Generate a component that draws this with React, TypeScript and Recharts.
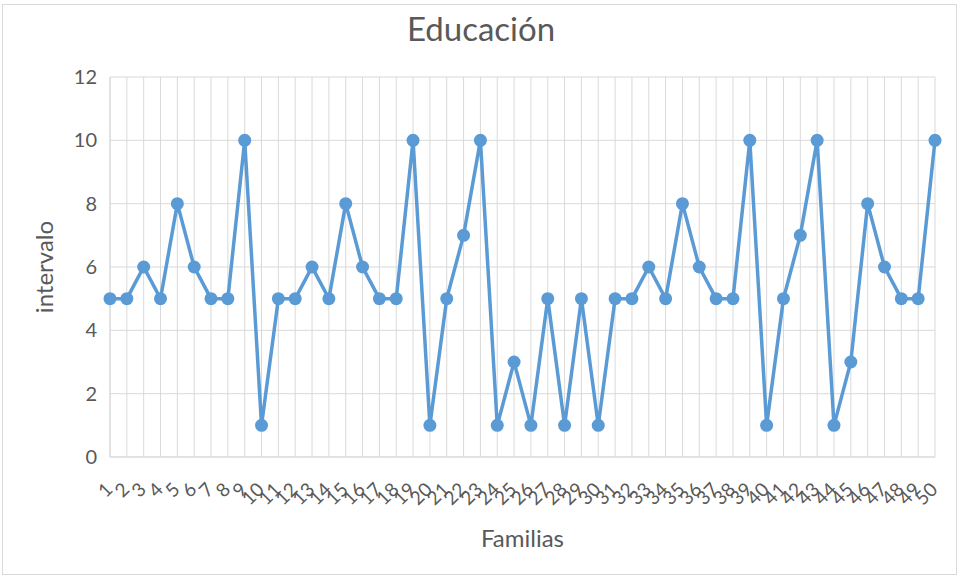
import React from "react";
import { LineChart, Line, XAxis, YAxis, CartesianGrid, Label } from "recharts";

const familias: string[] = [
  "1","2","3","4","5","6","7","8","9","10",
  "11","12","13","14","15","16","17","18","19","20",
  "21","22","23","24","25","26","27","28","29","30",
  "31","32","33","34","35","36","37","38","39","40",
  "41","42","43","44","45","46","47","48","49","50",
];
const intervalo: number[] = [
  5, 5, 6, 5, 8, 6, 5, 5, 10, 1,
  5, 5, 6, 5, 8, 6, 5, 5, 10, 1,
  5, 7, 10, 1, 3, 1, 5, 1, 5, 1,
  5, 5, 6, 5, 8, 6, 5, 5, 10, 1,
  5, 7, 10, 1, 3, 8, 6, 5, 5, 10,
];
const yTicks: number[] = [0, 2, 4, 6, 8, 10, 12];

const data = familias.map((f, i) => ({ familia: f, valor: intervalo[i] }));

const FONT = "Lato, 'Open Sans', sans-serif";
const GREY = "#595959";
const BLUE = "#5B9BD5";

const XTick = (props: any) => {
  const { x, y, payload } = props;
  return (
    <g transform={`translate(${x - 1},${y + 27})`}>
      <text
        textAnchor="end"
        transform="rotate(-45)"
        fontSize={19}
        fill={GREY}
        fontFamily={FONT}
        dy="0.35em"
      >
        {payload.value}
      </text>
    </g>
  );
};

export default function App() {
  return (
    <div
      style={{
        position: "absolute",
        left: 0,
        top: 0,
        width: 960,
        height: 578,
        background: "#fff",
      }}
    >
      <div
        style={{
          position: "absolute",
          left: 2,
          top: 4,
          width: 955,
          height: 571,
          border: "1px solid #d9d9d9",
          boxSizing: "border-box",
        }}
      />
      <div
        style={{
          position: "absolute",
          left: 0,
          top: 8,
          width: 962,
          textAlign: "center",
          fontFamily: FONT,
          fontSize: 33,
          color: GREY,
          lineHeight: "40px",
        }}
      >
        Educación
      </div>
      <div style={{ position: "absolute", left: 0, top: 0 }}>
        <LineChart
          width={960}
          height={578}
          data={data}
          margin={{ top: 77, right: 25, bottom: 21, left: 0 }}
        >
          <CartesianGrid stroke="#d9d9d9" strokeWidth={1} />
          <XAxis
            dataKey="familia"
            interval={0}
            height={100}
            tick={<XTick />}
            tickLine={false}
            axisLine={{ stroke: "#d9d9d9" }}
            tickSize={0}
          >
            <Label
              value="Familias"
              position="insideBottom"
              offset={10}
              style={{ fontSize: 24, fill: GREY, fontFamily: FONT }}
            />
          </XAxis>
          <YAxis
            domain={[0, 12]}
            ticks={yTicks}
            width={110}
            tickLine={false}
            axisLine={false}
            tickSize={0}
            tickMargin={13}
            tick={{ fontSize: 20, fill: GREY, fontFamily: FONT }}
          >
            <Label
              value="intervalo"
              angle={-90}
              position="insideLeft"
              offset={44}
              style={{ fontSize: 24, fill: GREY, fontFamily: FONT, textAnchor: "middle" }}
            />
          </YAxis>
          <Line
            type="linear"
            dataKey="valor"
            stroke={BLUE}
            strokeWidth={3.5}
            dot={{ r: 6.5, fill: BLUE, stroke: BLUE, strokeWidth: 0 }}
            activeDot={false}
            isAnimationActive={false}
          />
        </LineChart>
      </div>
    </div>
  );
}
